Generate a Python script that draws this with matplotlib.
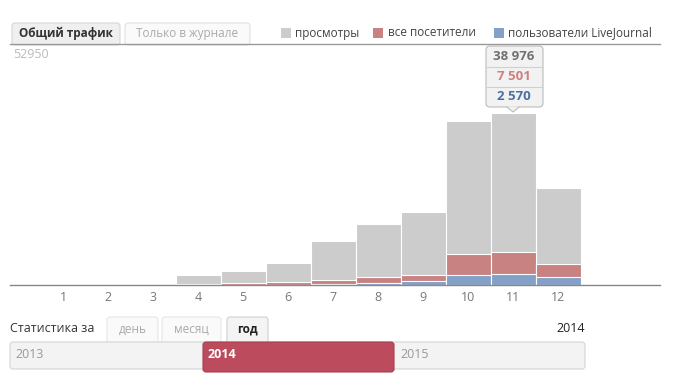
import matplotlib
matplotlib.use("Agg")
from matplotlib import pyplot as plt
from matplotlib.patches import FancyBboxPatch, Rectangle, Polygon

plt.rcParams['font.family'] = ['Open Sans', 'DejaVu Sans']

# Données (statistiques 2014 par mois)
months = [1, 2, 3, 4, 5, 6, 7, 8, 9, 10, 11, 12]
views = [0, 0, 300, 2270, 3170, 4990, 9970, 13820, 16540, 37160, 38976, 21980]
visitors = [0, 0, 50, 300, 520, 750, 1200, 1880, 2330, 7030, 7501, 4760]
lj_users = [0, 0, 0, 30, 60, 100, 300, 450, 900, 2200, 2570, 1750]
y_max = 52950
legend_labels = ['просмотры', 'все посетители', 'пользователи LiveJournal']
tooltip_values = ['38 976', '7 501', '2 570']
years = ['2013', '2014', '2015']
periods = ['день', 'месяц', 'год']

c_gray = '#cccccc'
c_red = '#c98282'
c_blue = '#84a0c6'

W, H = 677, 380
fig = plt.figure(figsize=(W / 100, H / 100), dpi=100)

# axes des barres, placé en pixels
x0, x1, yb, yt = 10, 660, 285, 51
ax = fig.add_axes([x0 / W, 1 - yb / H, (x1 - x0) / W, (yb - yt) / H])
ax.bar(months, views, width=1.0, color=c_gray, edgecolor='white', linewidth=0.8)
ax.bar(months, visitors, width=1.0, color=c_red, edgecolor='white', linewidth=0.8)
ax.bar(months, lj_users, width=1.0, color=c_blue, edgecolor='white', linewidth=0.8)
ax.set_xlim(1 - 53 / 45, 1 + 597 / 45)
ax.set_ylim(0, y_max)
for s in ['top', 'left', 'right']:
    ax.spines[s].set_visible(False)
ax.spines['bottom'].set_color('#888888')
ax.spines['bottom'].set_linewidth(1)
ax.set_yticks([])
ax.set_xticks(months)
ax.set_xticklabels([str(m) for m in months], color='#777777', fontsize=9)
ax.tick_params(axis='x', length=0, pad=4)
ax.patch.set_alpha(0)

# calque "interface" en coordonnées pixels
ui = fig.add_axes([0, 0, 1, 1])
ui.set_xlim(0, W)
ui.set_ylim(H, 0)
ui.axis('off')
ui.patch.set_alpha(0)

def box(x, y, w, h, fc, ec, r=3, z=1):
    p = FancyBboxPatch((x, y), w, h, boxstyle="round,pad=0,rounding_size=%d" % r,
                       fc=fc, ec=ec, lw=0.8, zorder=z)
    ui.add_patch(p)

# onglets du haut
box(12, 23, 108, 22, '#efefef', '#d6d6d6')
ui.text(66, 33, 'Общий трафик', ha='center', va='center', fontsize=8.5,
        fontweight='bold', color='#333333')
box(125, 23, 125, 22, '#fafafa', '#e2e2e2')
ui.text(187, 33, 'Только в журнале', ha='center', va='center', fontsize=8.5,
        color='#aaaaaa')
ui.plot([10, 660], [44, 44], color='#999999', lw=1)

# légende
for xs, xt, col, lab in zip([281, 373, 494], [295, 388, 508],
                            [c_gray, c_red, c_blue], legend_labels):
    ui.add_patch(Rectangle((xs, 28), 10, 10, fc=col, ec='none'))
    ui.text(xt, 33, lab, ha='left', va='center', fontsize=8.5, color='#444444')

ui.text(13, 55, str(y_max), ha='left', va='center', fontsize=9, color='#bbbbbb')

# info-bulle
box(486, 46, 57, 61, '#f2f2f2', '#bbbbbb', r=4, z=3)
ui.add_patch(Polygon([[507, 106.5], [519, 106.5], [513, 112]], closed=True,
                     fc='#f2f2f2', ec='none', zorder=4))
ui.plot([507, 513, 519], [107, 112, 107], color='#bbbbbb', lw=0.8, zorder=4)
ui.plot([487, 542], [67, 67], color='#d0d0d0', lw=0.8, zorder=4)
ui.plot([487, 542], [87, 87], color='#d0d0d0', lw=0.8, zorder=4)
for yy, val, col in zip([57, 77, 97], tooltip_values, ['#6f6f6f', '#d07f7f', '#4a6fa3']):
    ui.text(514, yy, val, ha='center', va='center', fontsize=9.5,
            fontweight='bold', color=col, zorder=5)

# bas : période et curseur
ui.text(10, 328, 'Статистика за', ha='left', va='center', fontsize=9, color='#333333')
for (xa, xb), lab, active in zip([(107, 158), (162, 221), (227, 268)], periods,
                                 [False, False, True]):
    box(xa, 317, xb - xa, 30, '#f4f4f4' if active else '#fafafa',
        '#cfcfcf' if active else '#e6e6e6')
    ui.text((xa + xb) / 2, 329, lab, ha='center', va='center', fontsize=8.5,
            fontweight='bold' if active else 'normal',
            color='#222222' if active else '#aaaaaa')
ui.text(585, 328, '2014', ha='right', va='center', fontsize=9, color='#222222')

box(10, 342, 575, 27, '#f3f3f3', '#d4d4d4', r=3, z=2)
box(203, 342, 191, 30, '#bb4b5d', '#a94050', r=3, z=3)
ui.text(15, 355, years[0], ha='left', va='center', fontsize=9, color='#999999', zorder=4)
ui.text(208, 355, years[1], ha='left', va='center', fontsize=9, color='white',
        fontweight='bold', zorder=4)
ui.text(400, 355, years[2], ha='left', va='center', fontsize=9, color='#999999', zorder=4)

fig.savefig('out.png', dpi=100)
